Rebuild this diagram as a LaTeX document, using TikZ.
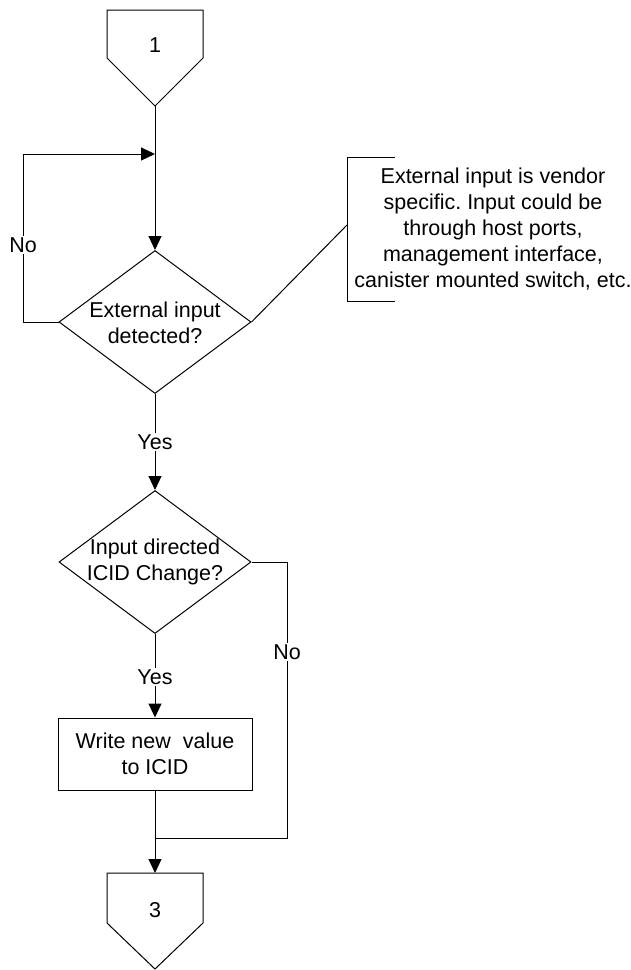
\documentclass[tikz,border=0pt]{standalone}
\usepackage{fontspec}
\setmainfont{Liberation Sans}
\usetikzlibrary{shapes.geometric,arrows.meta}
\frenchspacing
\begin{document}
\begin{tikzpicture}[x=1pt,y=-1pt,
  every node/.style={font=\fontsize{21.5}{26}\selectfont},
  line/.style={draw=black, line width=1pt},
  flow/.style={line, -{Triangle[length=14pt,width=13pt]}},
  decision/.style={diamond, draw, line width=1pt, minimum width=192pt,
    minimum height=143pt, inner sep=0pt},
  process/.style={rectangle, draw, line width=1pt, minimum width=194pt,
    minimum height=72pt, align=center, inner sep=0pt},
  tag/.style={fill=white, inner sep=1.5pt},
  offpage/.style={line, line join=miter}]
\useasboundingbox (0,0) rectangle (631,970);

% off-page connector 1
\draw[offpage] (107,10) -- (203,10) -- (203,58) -- (155,106) -- (107,58) -- cycle;
\node (c1) at (155,45) {1};
\coordinate (c1tip) at (155,106);

% decisions and process
\node[decision, label={[align=center,yshift=-1pt]center:External input\\detected?}] (d1) at (155,322) {};
\node[decision, label={[align=center]center:Input directed\\ICID Change?}] (d2) at (155,562) {};
\node[process] (w) at (155,754) {Write new\ \ value\\to ICID};

% off-page connector 3
\draw[offpage] (107,873) -- (203,873) -- (203,923) -- (155,969) -- (107,923) -- cycle;
\node (c3) at (155,910) {3};
\coordinate (c3top) at (155,873);

% annotation bracket
\coordinate (nb) at (347,225);
\draw[line] (395,157) -- (347,157) -- (347,301) -- (395,301);
\node[align=center] (note) at (493,229)
  {External input is vendor\\specific. Input could be\\through host ports,\\management interface,\\canister mounted switch, etc.};
\draw[line] (d1.east) -- (nb);

% connectors
\coordinate (loopL) at (23,154);
\coordinate (loopR) at (155,154);
\draw[flow] (c1tip) -- (d1.north);
\draw[flow] (d1.west) -| (loopL) -- (loopR);
\node[tag] (no1) at (23,245) {No};

\draw[flow] (d1.south) -- (d2.north);
\node[tag] (yes1) at (155,442) {Yes};

\draw[flow] (d2.south) -- (w.north);
\node[tag] (yes2) at (155,677) {Yes};

\coordinate (join) at (155,838);
\draw[line] (d2.east) -| (287,838) -- (join);
\node[tag] (no2) at (287,652) {No};

\draw[flow] (w.south) -- (c3top);
\end{tikzpicture}
\end{document}
